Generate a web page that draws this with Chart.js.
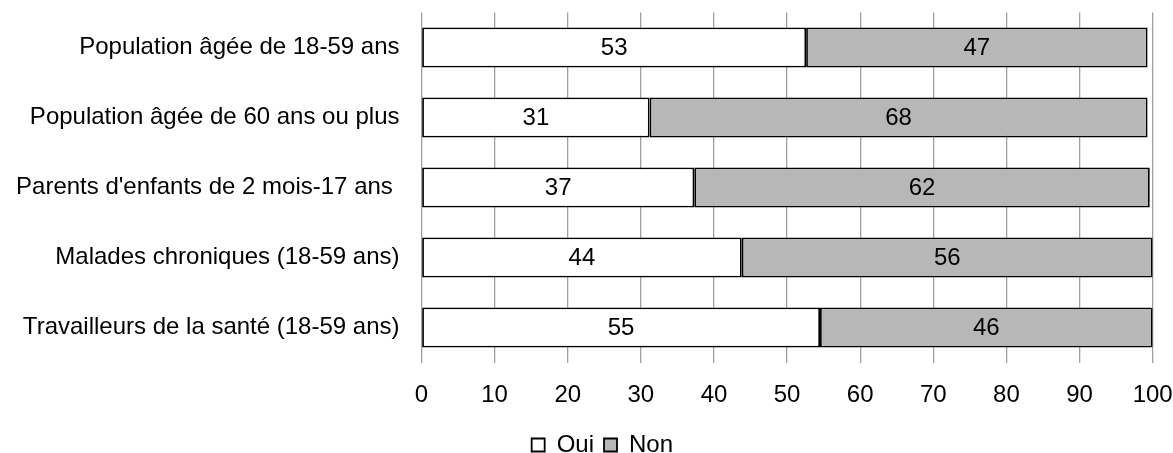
<!DOCTYPE html>
<html>
<head>
<meta charset="utf-8">
<script src="https://cdn.jsdelivr.net/npm/chart.js@4"></script>
<style>
  html, body { margin: 0; padding: 0; background: #fff; }
  #wrap { width: 1173px; height: 453px; }
</style>
</head>
<body>
<div id="wrap"><canvas id="c" width="1173" height="453"></canvas></div>
<script>
const categories = [
  "Population âgée de 18-59 ans",
  "Population âgée de 60 ans ou plus",
  "Parents d'enfants de 2 mois-17 ans ",
  "Malades chroniques (18-59 ans)",
  "Travailleurs de la santé (18-59 ans)"
];
const seriesNames = ["Oui", "Non"];
const ouiValues = [52.6, 31.2, 37.3, 43.8, 54.5];
const nonValues = [46.7, 68.1, 62.3, 56.2, 45.5];
const xTicks = [0, 10, 20, 30, 40, 50, 60, 70, 80, 90, 100];

const FONT = "'Liberation Sans', Arial, Helvetica, sans-serif";
const FS = 24;

const valueLabels = {
  id: 'valueLabels',
  afterDatasetsDraw(chart) {
    const ctx = chart.ctx;
    ctx.save();
    ctx.font = FS + "px " + FONT;
    ctx.fillStyle = '#000';
    ctx.textAlign = 'center';
    ctx.textBaseline = 'middle';
    chart.data.datasets.forEach((ds, di) => {
      const meta = chart.getDatasetMeta(di);
      meta.data.forEach((el, i) => {
        const v = ds.data[i];
        const x = (el.x + el.base) / 2;
        ctx.fillText(String(Math.round(v)), x, el.y + 1);
      });
    });
    ctx.restore();
  }
};

// shift the legend block so it is centred where the reference has it
const legendShift = {
  id: 'legendShift',
  afterLayout(chart) {
    if (chart.legend) { chart.legend.left = 52; }
  }
};

new Chart(document.getElementById('c'), {
  type: 'bar',
  data: {
    labels: categories,
    datasets: [
      { label: seriesNames[0], data: ouiValues, backgroundColor: '#ffffff', borderColor: '#000000', borderWidth: 1.8, borderSkipped: false,
        categoryPercentage: 1, barPercentage: 0.571 },
      { label: seriesNames[1], data: nonValues, backgroundColor: '#b7b7b7', borderColor: '#000000', borderWidth: 1.8, borderSkipped: false,
        categoryPercentage: 1, barPercentage: 0.571 }
    ]
  },
  options: {
    indexAxis: 'y',
    responsive: false,
    animation: false,
    devicePixelRatio: 1,
    layout: { padding: { top: 12.5, left: 0, right: 20.3, bottom: -14 } },
    scales: {
      x: {
        stacked: true, min: 0, max: 100,
        afterBuildTicks(scale) { scale.ticks = xTicks.map(v => ({ value: v })); },
        afterFit(scale) { scale.height = 60.5; scale.paddingLeft = 0; scale.paddingRight = 0; },
        ticks: { font: { family: FONT, size: FS }, color: '#000', padding: 18, maxRotation: 0 },
        grid: { color: '#a0a0a0', lineWidth: 1.3, drawTicks: false },
        border: { display: false }
      },
      y: {
        stacked: true,
        afterFit(scale) { scale.width = 421.5; scale.paddingTop = 0; scale.paddingBottom = 0; },
        ticks: { font: { family: FONT, size: FS }, color: '#000', padding: 22 },
        grid: { display: false, drawTicks: false },
        border: { display: false }
      }
    },
    plugins: {
      legend: {
        position: 'bottom',
        labels: {
          font: { family: FONT, size: FS }, color: '#000',
          boxWidth: 13, boxHeight: 13, padding: 10,
          useBorderRadius: false
        }
      },
      tooltip: { enabled: false }
    }
  },
  plugins: [valueLabels, legendShift]
});
</script>
</body>
</html>
